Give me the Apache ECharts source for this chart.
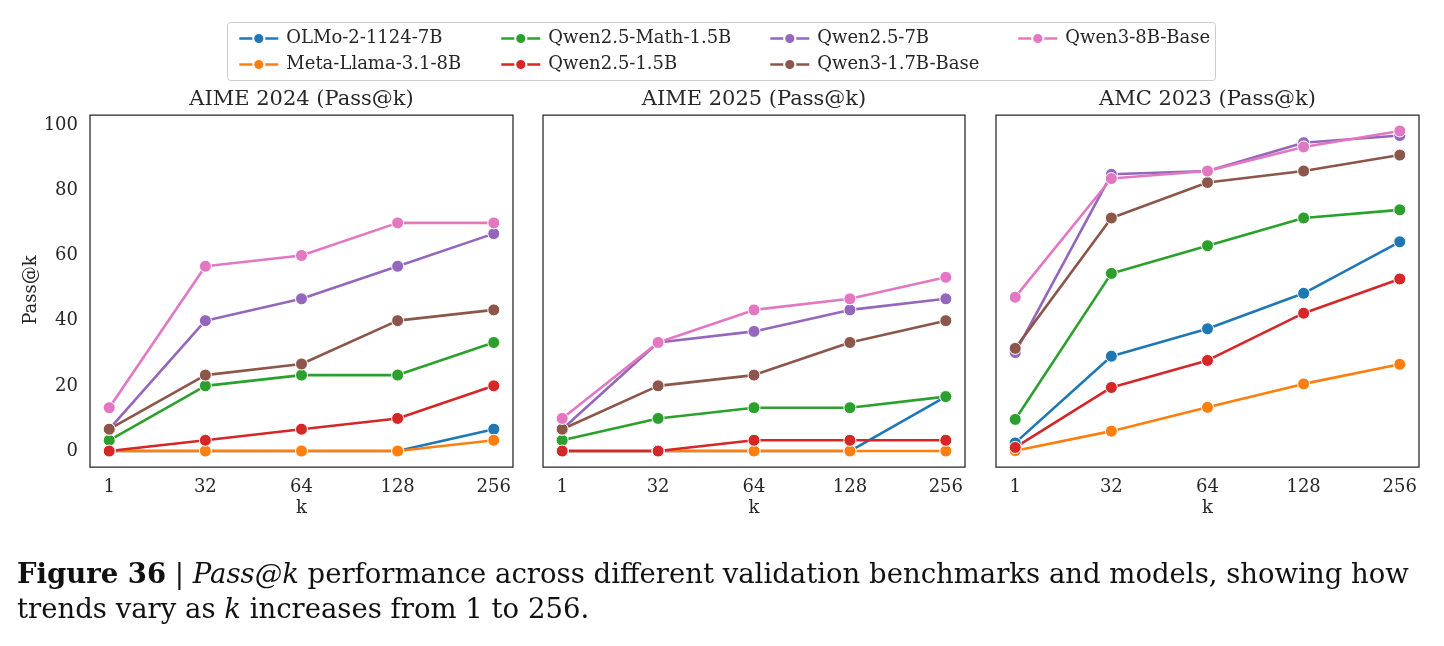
<!DOCTYPE html>
<html>
<head>
<meta charset="utf-8">
<title>Pass@k</title>
<script src="https://cdn.jsdelivr.net/npm/echarts@6/dist/echarts.min.js"></script>
<style>
    html, body { margin: 0; padding: 0; background: #ffffff; }
    #main { width: 1444px; height: 646px; }
</style>
</head>
<body>
<div id="main"></div>
<script>
// x 轴刻度 (k)
var kLabels = [ '1', '32', '64', '128', '256' ];
var yTicks = [ 0, 20, 40, 60, 80, 100 ];
var modelNames = [ 'OLMo-2-1124-7B', 'Meta-Llama-3.1-8B', 'Qwen2.5-Math-1.5B', 'Qwen2.5-1.5B', 'Qwen2.5-7B', 'Qwen3-1.7B-Base', 'Qwen3-8B-Base' ];
var panelTitles = [ 'AIME 2024 (Pass@k)', 'AIME 2025 (Pass@k)', 'AMC 2023 (Pass@k)' ];

// 每行一个模型, 顺序同 modelNames
var aime2024 = [
    [ 0, 0, 0, 0, 6.7 ],
    [ 0, 0, 0, 0, 3.3 ],
    [ 3.3, 20, 23.3, 23.3, 33.3 ],
    [ 0, 3.3, 6.7, 10, 20 ],
    [ 6.7, 40, 46.7, 56.7, 66.7 ],
    [ 6.7, 23.3, 26.7, 40, 43.3 ],
    [ 13.3, 56.7, 60, 70, 70 ]
];
var aime2025 = [
    [ 0, 0, 0, 0, 16.7 ],
    [ 0, 0, 0, 0, 0 ],
    [ 3.3, 10, 13.3, 13.3, 16.7 ],
    [ 0, 0, 3.3, 3.3, 3.3 ],
    [ 6.7, 33.3, 36.7, 43.3, 46.7 ],
    [ 6.7, 20, 23.3, 33.3, 40 ],
    [ 10, 33.3, 43.3, 46.7, 53.3 ]
];
var amc2023 = [
    [ 2.5, 29.1, 37.5, 48.4, 64.2 ],
    [ 0.1, 6.1, 13.4, 20.6, 26.6 ],
    [ 9.7, 54.5, 63, 71.5, 74 ],
    [ 1.1, 19.5, 27.8, 42.3, 52.8 ],
    [ 30.2, 84.9, 85.9, 94.6, 96.8 ],
    [ 31.5, 71.5, 82.4, 85.9, 90.8 ],
    [ 47.2, 83.6, 85.9, 93.3, 98.2 ]
];

var PassAtK = function() {
    var t = {
        chart : null,
        font : 'DejaVu Serif',
        textColor : '#262626',
        colors : [ '#1f77b4', '#ff7f0e', '#2ca02c', '#d62728', '#9467bd', '#8c564b', '#e377c2' ],
        panels : [ aime2024, aime2025, amc2023 ],
        gridLefts : [ 90, 543, 996 ],
        gridWidths : [ 423, 422, 423 ],
        gridTop : 115,
        gridHeight : 352,
        init : function(el) {
            t.chart = echarts.init(el, null, { renderer : 'canvas' });
            t.render();
        },
        // 三个子图
        buildGrids : function() {
            var grids = [], xAxes = [], yAxes = [];
            for (var p = 0; p < 3; p++) {
                grids.push({
                    left : t.gridLefts[p],
                    top : t.gridTop,
                    width : t.gridWidths[p],
                    height : t.gridHeight,
                    show : true,
                    borderColor : '#262626',
                    borderWidth : 1.25,
                    backgroundColor : '#ffffff'
                });
                xAxes.push({
                    type : 'value',
                    gridIndex : p,
                    min : -0.2,
                    max : 4.2,
                    axisLine : { show : false },
                    axisTick : { show : false },
                    splitLine : { show : false },
                    axisLabel : {
                        customValues : [ 0, 1, 2, 3, 4 ],
                        margin : 11,
                        fontFamily : t.font,
                        fontSize : 18,
                        color : t.textColor,
                        formatter : function(v) {
                            return kLabels[v] !== undefined ? kLabels[v] : '';
                        }
                    }
                });
                yAxes.push({
                    type : 'value',
                    gridIndex : p,
                    min : -4.9,
                    max : 103.1,
                    axisLine : { show : false },
                    axisTick : { show : false },
                    splitLine : { show : false },
                    axisLabel : {
                        show : p == 0,
                        customValues : yTicks,
                        margin : 12,
                        fontFamily : t.font,
                        fontSize : 18,
                        color : t.textColor
                    }
                });
            }
            return { grids : grids, xAxes : xAxes, yAxes : yAxes };
        },
        buildSeries : function() {
            var series = [];
            for (var p = 0; p < 3; p++) {
                for (var m = 0; m < modelNames.length; m++) {
                    var vals = t.panels[p][m];
                    var data = [];
                    for (var i = 0; i < vals.length; i++) {
                        data.push([ i, vals[i] ]);
                    }
                    series.push({
                        name : modelNames[m],
                        type : 'line',
                        xAxisIndex : p,
                        yAxisIndex : p,
                        data : data,
                        symbol : 'circle',
                        symbolSize : 12,
                        lineStyle : { width : 2.6, color : t.colors[m] },
                        itemStyle : { color : t.colors[m], borderColor : '#ffffff', borderWidth : 1 },
                        emphasis : { disabled : true },
                        animation : false
                    });
                }
            }
            return series;
        },
        // 图例 4 列
        buildLegends : function() {
            var cols = [ [ 0, 1 ], [ 2, 3 ], [ 4, 5 ], [ 6 ] ];
            var lefts = [ 233, 495, 764, 1012 ];
            var legends = [];
            for (var c = 0; c < cols.length; c++) {
                legends.push({
                    orient : 'vertical',
                    left : lefts[c],
                    top : 24,
                    itemWidth : 39,
                    itemHeight : 14,
                    itemGap : 7,
                    selectedMode : false,
                    data : cols[c].map(function(i) { return modelNames[i]; }),
                    lineStyle : { width : 2.6 },
                    textStyle : {
                        fontFamily : t.font,
                        fontSize : 18,
                        lineHeight : 19,
                        color : t.textColor,
                        padding : [ 0, 0, 0, 3 ]
                    }
                });
            }
            return legends;
        },
        buildGraphics : function() {
            var g = [];
            // 图例边框
            g.push({
                type : 'rect',
                left : 227,
                top : 22,
                z : 0,
                shape : { width : 988, height : 58, r : 3 },
                style : { fill : '#ffffff', stroke : '#cccccc', lineWidth : 1 }
            });
            for (var p = 0; p < 3; p++) {
                var cx = t.gridLefts[p] + t.gridWidths[p] / 2;
                g.push({
                    type : 'text',
                    x : cx,
                    y : 100,
                    style : { text : panelTitles[p], fontFamily : t.font, fontSize : 21, fill : t.textColor, textAlign : 'center', textVerticalAlign : 'middle' }
                });
                g.push({
                    type : 'text',
                    x : cx,
                    y : 508,
                    style : { text : 'k', fontFamily : t.font, fontSize : 18, fill : t.textColor, textAlign : 'center', textVerticalAlign : 'middle' }
                });
            }
            g.push({
                type : 'text',
                x : 31,
                y : 290,
                rotation : Math.PI / 2,
                style : { text : 'Pass@k', fontFamily : t.font, fontSize : 18, fill : t.textColor, textAlign : 'center', textVerticalAlign : 'middle' }
            });
            // 图注
            var capFont = 27.5;
            g.push({
                type : 'text',
                x : 17,
                y : 576,
                style : {
                    text : '{b|Figure 36} | {i|Pass@k} performance across different validation benchmarks and models, showing how',
                    fontFamily : t.font,
                    fontSize : capFont,
                    fill : '#111111',
                    textVerticalAlign : 'middle',
                    rich : {
                        b : { fontFamily : t.font, fontSize : capFont, fontWeight : 'bold', fill : '#111111' },
                        i : { fontFamily : t.font, fontSize : capFont, fontStyle : 'italic', fill : '#111111' }
                    }
                }
            });
            g.push({
                type : 'text',
                x : 17,
                y : 611,
                style : {
                    text : 'trends vary as {i|k} increases from 1 to 256.',
                    fontFamily : t.font,
                    fontSize : capFont,
                    fill : '#111111',
                    textVerticalAlign : 'middle',
                    rich : {
                        i : { fontFamily : t.font, fontSize : capFont, fontStyle : 'italic', fill : '#111111' }
                    }
                }
            });
            return g;
        },
        render : function() {
            var axes = t.buildGrids();
            var option = {
                backgroundColor : '#ffffff',
                animation : false,
                grid : axes.grids,
                xAxis : axes.xAxes,
                yAxis : axes.yAxes,
                legend : t.buildLegends(),
                graphic : t.buildGraphics(),
                series : t.buildSeries()
            };
            t.chart.setOption(option);
        }
    };
    return t;
}();

PassAtK.init(document.getElementById('main'));
</script>
</body>
</html>
